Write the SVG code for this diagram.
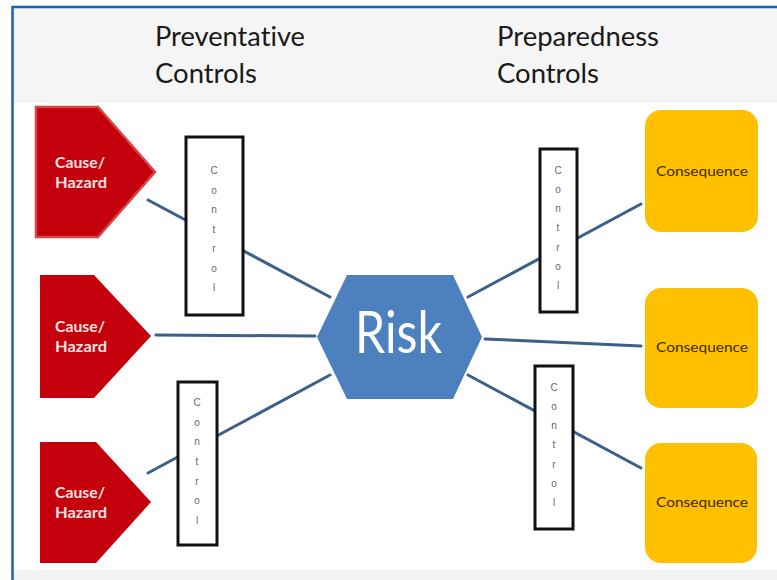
<svg xmlns="http://www.w3.org/2000/svg" width="777" height="580" viewBox="0 0 777 580">
<style>
.hdr{font-family:Lato,"Open Sans","Liberation Sans",sans-serif;font-size:27px;fill:#1a1a1a;font-variant-ligatures:none}
.cause{fill:#c3000b}
.ctxt{font-family:Lato,"Liberation Sans",sans-serif;font-weight:bold;font-size:16px;fill:#f4e4e4}
.ctl{fill:#ffffff;stroke:#111111;stroke-width:3}
.ctlt{font-family:"Liberation Sans",sans-serif;font-size:10px;fill:#666666;text-anchor:middle}
.cons{fill:#ffc000}
.cst{font-family:Lato,"Liberation Sans",sans-serif;font-size:14px;fill:#3a2a00;text-anchor:middle}
.conn line{stroke:#3d5f8c;stroke-width:3;stroke-linecap:round}
</style>
<rect x="0" y="0" width="777" height="580" fill="#ffffff"/>
<rect x="13" y="8" width="764" height="95" fill="#f5f5f5"/>
<rect x="13" y="570" width="764" height="10" fill="#f3f3f3"/>
<path d="M12.5 580 V7 H777" fill="none" stroke="#1b5fc0" stroke-width="2.5"/>

<g id="header-preventative">
<text class="hdr" x="155" y="46" textLength="150" lengthAdjust="spacingAndGlyphs">Preventative</text>
<text class="hdr" x="155" y="83" textLength="102" lengthAdjust="spacingAndGlyphs">Controls</text>
</g>
<g id="header-preparedness">
<text class="hdr" x="497" y="46" textLength="162" lengthAdjust="spacingAndGlyphs">Preparedness</text>
<text class="hdr" x="497" y="83" textLength="102" lengthAdjust="spacingAndGlyphs">Controls</text>
</g>

<g id="connectors" class="conn">
<line x1="148" y1="200" x2="330" y2="297"/>
<line x1="156" y1="335" x2="315" y2="336"/>
<line x1="148" y1="473" x2="330" y2="375"/>
<line x1="468" y1="297" x2="641" y2="204"/>
<line x1="485" y1="339" x2="641" y2="346"/>
<line x1="468" y1="375" x2="641" y2="468"/>
</g>

<g id="cause1">
<polygon class="cause" points="36,107 98,107 155,172 98,237 36,237" stroke="#d64545" stroke-width="2.5"/>
<text class="ctxt" x="55" y="168" textLength="50" lengthAdjust="spacingAndGlyphs">Cause/</text>
<text class="ctxt" x="55" y="188" textLength="52" lengthAdjust="spacingAndGlyphs">Hazard</text>
</g>
<g id="cause2">
<polygon class="cause" points="40,275 94,275 151,336 94,398 40,398"/>
<text class="ctxt" x="55" y="332" textLength="50" lengthAdjust="spacingAndGlyphs">Cause/</text>
<text class="ctxt" x="55" y="352" textLength="52" lengthAdjust="spacingAndGlyphs">Hazard</text>
</g>
<g id="cause3">
<polygon class="cause" points="40,442 96,442 151,502 96,563 40,563"/>
<text class="ctxt" x="55" y="498" textLength="50" lengthAdjust="spacingAndGlyphs">Cause/</text>
<text class="ctxt" x="55" y="518" textLength="52" lengthAdjust="spacingAndGlyphs">Hazard</text>
</g>

<g id="control-left-top">
<rect class="ctl" x="186" y="137" width="57" height="178"/>
<text class="ctlt" x="214" y="174">C</text>
<text class="ctlt" x="214" y="194">o</text>
<text class="ctlt" x="214" y="213">n</text>
<text class="ctlt" x="214" y="233">t</text>
<text class="ctlt" x="214" y="252">r</text>
<text class="ctlt" x="214" y="272">o</text>
<text class="ctlt" x="214" y="291">l</text>
</g>
<g id="control-left-bottom">
<rect class="ctl" x="178" y="382" width="39" height="163"/>
<text class="ctlt" x="197" y="406">C</text>
<text class="ctlt" x="197" y="426">o</text>
<text class="ctlt" x="197" y="445">n</text>
<text class="ctlt" x="197" y="465">t</text>
<text class="ctlt" x="197" y="485">r</text>
<text class="ctlt" x="197" y="504">o</text>
<text class="ctlt" x="197" y="524">l</text>
</g>
<g id="control-right-top">
<rect class="ctl" x="540" y="149" width="37" height="163"/>
<text class="ctlt" x="558" y="174">C</text>
<text class="ctlt" x="558" y="193">o</text>
<text class="ctlt" x="558" y="212">n</text>
<text class="ctlt" x="558" y="231">t</text>
<text class="ctlt" x="558" y="251">r</text>
<text class="ctlt" x="558" y="270">o</text>
<text class="ctlt" x="558" y="289">l</text>
</g>
<g id="control-right-bottom">
<rect class="ctl" x="535" y="366" width="38" height="163"/>
<text class="ctlt" x="554" y="391">C</text>
<text class="ctlt" x="554" y="410">o</text>
<text class="ctlt" x="554" y="429">n</text>
<text class="ctlt" x="554" y="448">t</text>
<text class="ctlt" x="554" y="468">r</text>
<text class="ctlt" x="554" y="487">o</text>
<text class="ctlt" x="554" y="506">l</text>
</g>

<g id="risk">
<polygon points="317,337 347,275 453,275 482,337 453,399 347,399" fill="#4c80bf"/>
<text x="355" y="353" font-family="Lato,'Open Sans','Liberation Sans',sans-serif" font-size="58" fill="#ffffff" textLength="87" lengthAdjust="spacingAndGlyphs">Risk</text>
</g>

<g id="consequence1">
<rect class="cons" x="645" y="110" width="113" height="122" rx="16"/>
<text class="cst" x="702" y="176" textLength="92" lengthAdjust="spacingAndGlyphs">Consequence</text>
</g>
<g id="consequence2">
<rect class="cons" x="645" y="288" width="113" height="120" rx="16"/>
<text class="cst" x="702" y="352" textLength="92" lengthAdjust="spacingAndGlyphs">Consequence</text>
</g>
<g id="consequence3">
<rect class="cons" x="645" y="443" width="112" height="120" rx="16"/>
<text class="cst" x="702" y="507" textLength="92" lengthAdjust="spacingAndGlyphs">Consequence</text>
</g>
</svg>
